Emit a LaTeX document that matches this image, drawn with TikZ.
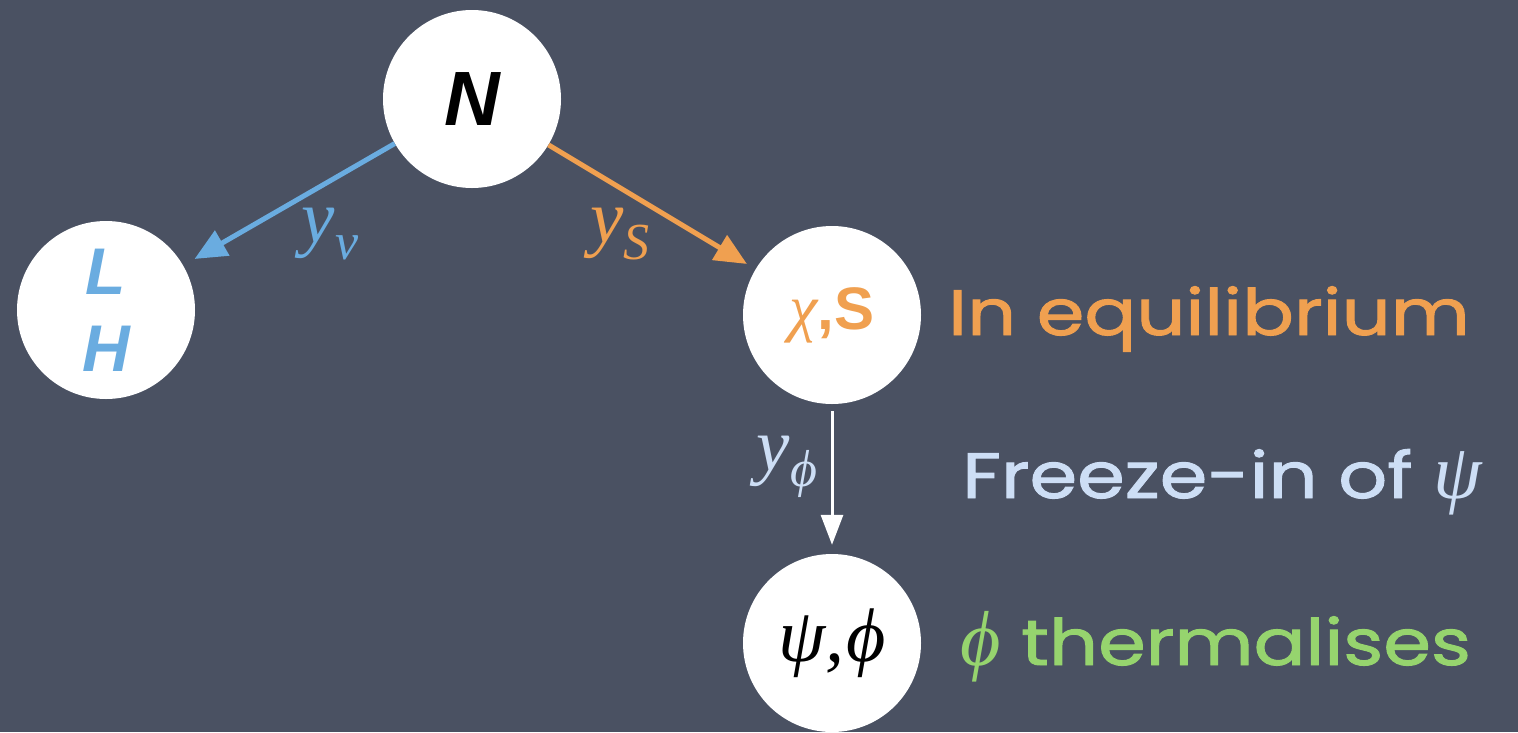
\documentclass[tikz,border=0pt]{standalone}
\usepackage{fontspec}
\setmainfont{Liberation Sans}
\newfontfamily\chalk[FakeStretch=1.2,FakeBold=1.5]{Poppins}
\newfontfamily\tms{Liberation Serif}
\newcommand\gi[1]{{\tms\itshape #1}}
\newcommand\lowsub[1]{\raisebox{-0.22em}{\fontsize{52}{52}\selectfont\tms\itshape #1}}
\usetikzlibrary{arrows.meta}
\definecolor{board}{RGB}{74,81,98}
\definecolor{cblue}{RGB}{106,172,224}
\definecolor{corange}{RGB}{240,160,80}
\definecolor{clight}{RGB}{205,222,245}
\definecolor{cgreen}{RGB}{150,212,110}
\begin{document}
\begin{tikzpicture}[x=1pt,y=-1pt,
  ball/.style={circle,fill=white,minimum size=178pt,inner sep=0pt},
  link/.style={line width=5pt,-{Triangle[length=32pt,width=28pt]}},
  downlink/.style={line width=3pt,white,-{Triangle[length=30pt,width=22pt]}},
  coup/.style={inner sep=0pt,font=\fontsize{75}{80}\selectfont\tms\itshape},
  chalktext/.style={anchor=base west,inner sep=0pt,font=\chalk\fontsize{64}{68}\selectfont}]
\useasboundingbox (0,0) rectangle (1518,732);
\clip (0,0) rectangle (1518,732);
\fill[board] (0,0) rectangle (1518,732);

\node[ball,font=\fontsize{77}{80}\selectfont\bfseries\itshape] (N) at (472,99) {N};
\node[ball,align=center,text=cblue,font=\fontsize{66}{77}\selectfont\bfseries\itshape] (LH) at (106,310)
  {L\\ H};
\node[ball,text=corange] (CS) at (832,315)
  {\raisebox{-6pt}{{\fontsize{64}{68}\selectfont\gi{χ}}{\fontsize{60}{64}\selectfont\bfseries,S}}};
\node[ball,font=\fontsize{76}{80}\selectfont\tms\itshape] (PP) at (832,643) {ψ,\kern2pt ϕ};

\draw[link,cblue,shorten >=13pt] (N) -- (LH);
\draw[link,corange,shorten >=10pt] (N) -- (CS);
\draw[downlink,shorten <=7pt,shorten >=9pt] (CS) -- (PP);

\node[coup,text=cblue] (yn) at (330,234) {y\lowsub{ν}};
\node[coup,text=corange] (ys) at (620,234) {y\lowsub{S}};
\node[coup,text=clight] (yp) at (787,467) {y\lowsub{ϕ}};

\node[chalktext,text=corange] (t1) at (948,335) {In equilibrium};
\node[chalktext,text=clight] (t2) at (962,498) {Freeze-in of {\fontsize{78}{80}\selectfont\gi{ψ}}};
\node[chalktext,text=cgreen] (t3) at (960,665) {{\fontsize{78}{80}\selectfont\gi{ϕ}} thermalises};
\end{tikzpicture}
\end{document}
